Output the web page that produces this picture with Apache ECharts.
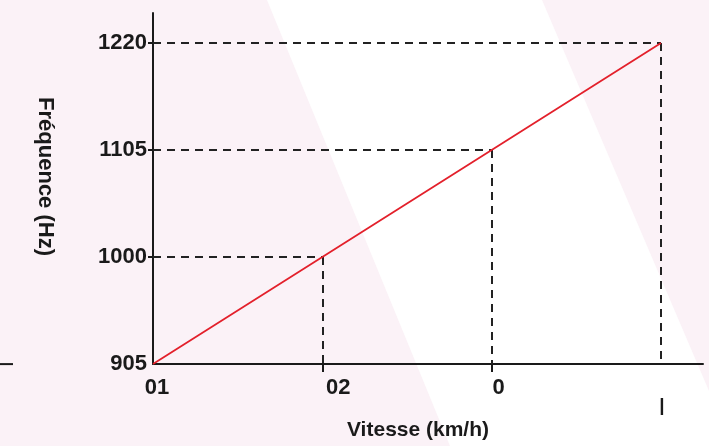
<!DOCTYPE html>
<html>
<head>
<meta charset="utf-8">
<script src="https://cdn.jsdelivr.net/npm/echarts@6/dist/echarts.min.js"></script>
<style>
html,body{margin:0;padding:0;background:#fbf2f7;}
#c{width:709px;height:446px;}
</style>
</head>
<body>
<div id="c"></div>
<script>
// Data
var xPositions = [0, 1, 2, 3];
var xTickLabels = ['01', '02', '0', '|'];
var freqLabels = ['905', '1000', '1105', '1220'];
var freqValues = [905, 1000, 1105, 1220];
var xAxisName = 'Vitesse (km/h)';
var yAxisName = 'Fréquence (Hz)';

var FONT = "'Liberation Sans', Arial, sans-serif";
var INK = '#1a1a1a';

// y positions on the tick scale: index of each frequency among the tick labels
var yIdx = freqValues.map(function (v) { return freqLabels.indexOf(String(v)); });
var lineData = xPositions.map(function (x, i) { return [x, yIdx[i]]; });

var guides = [];
for (var i = 1; i < xPositions.length; i++) {
  guides.push([{ coord: [0, yIdx[i]] }, { coord: [xPositions[i], yIdx[i]] }]);
  guides.push([{ coord: [xPositions[i], yIdx[i]] }, { coord: [xPositions[i], 0] }]);
}

var labelShift = { '01': 8, '02': 32, '0': 14, '|': 0 };

var chart = echarts.init(document.getElementById('c'), null, { renderer: 'canvas' });
var option = {
  backgroundColor: '#fbf2f7',
  animation: false,
  grid: { left: 153, right: 6, top: 13, bottom: 81, containLabel: false },
  graphic: [
    {
      type: 'polygon', z: -10, silent: true,
      shape: { points: [[267, 0], [542, 0], [709, 391], [709, 446], [450, 446]] },
      style: { fill: '#ffffff' }
    }
  ],
  xAxis: {
    type: 'value', min: 0, max: 3.248,
    name: xAxisName, nameLocation: 'middle', nameGap: 54,
    nameTextStyle: { fontFamily: FONT, fontWeight: 'bold', fontSize: 21, color: INK, padding: [0, 20, 0, 0] },
    axisLine: { show: true, lineStyle: { color: INK, width: 2 } },
    axisTick: { show: true, length: 8, lineStyle: { color: INK, width: 2 }, customValues: [1, 2] },
    splitLine: { show: false },
    axisLabel: {
      customValues: xPositions,
      margin: 13,
      fontFamily: FONT, fontWeight: 'bold', fontSize: 22, color: INK,
      formatter: function (v) {
        var t = xTickLabels[Math.round(v)];
        if (t === '|') return '{bar||}';
        return '{s' + labelShift[t] + '|' + t + '}';
      },
      rich: {
        s8: { fontFamily: FONT, fontWeight: 'bold', fontSize: 22, color: INK, padding: [0, 0, 0, 8] },
        s32: { fontFamily: FONT, fontWeight: 'bold', fontSize: 22, color: INK, padding: [0, 0, 0, 32] },
        s14: { fontFamily: FONT, fontWeight: 'bold', fontSize: 22, color: INK, padding: [0, 0, 0, 14] },
        bar: { fontFamily: FONT, fontWeight: 'bold', fontSize: 19, color: INK, padding: [19, 0, 0, 2] }
      }
    }
  },
  yAxis: {
    type: 'value', min: 0, max: 3.28,
    name: yAxisName, nameLocation: 'middle', nameGap: 97, nameRotate: -90,
    nameTextStyle: { fontFamily: FONT, fontWeight: 'bold', fontSize: 22, color: INK, padding: [0, 24, 0, 0] },
    axisLine: { show: true, lineStyle: { color: INK, width: 2 } },
    axisTick: { show: true, length: 5, lineStyle: { color: INK, width: 2 }, customValues: [1, 2, 3] },
    splitLine: { show: false },
    axisLabel: {
      customValues: [0, 1, 2, 3],
      margin: 6,
      fontFamily: FONT, fontWeight: 'bold', fontSize: 22, color: INK,
      formatter: function (v) { return freqLabels[Math.round(v)]; }
    }
  },
  series: [
    {
      type: 'line',
      data: lineData,
      symbol: 'none',
      lineStyle: { color: '#e3202b', width: 1.8 },
      z: 5,
      markLine: {
        silent: true, symbol: 'none', animation: false,
        label: { show: false },
        lineStyle: { color: '#222222', width: 2, type: [8, 6] },
        data: guides,
        z: 3
      }
    }
  ]
};
chart.setOption(option);

// short axis stub at the far left, aligned with the x axis line
var y0 = chart.convertToPixel({ gridIndex: 0 }, [0, 0])[1];
chart.setOption({
  graphic: [
    option.graphic[0],
    { type: 'line', silent: true, shape: { x1: 0, y1: y0, x2: 13, y2: y0 }, style: { stroke: INK, lineWidth: 2 } }
  ]
});
</script>
</body>
</html>
